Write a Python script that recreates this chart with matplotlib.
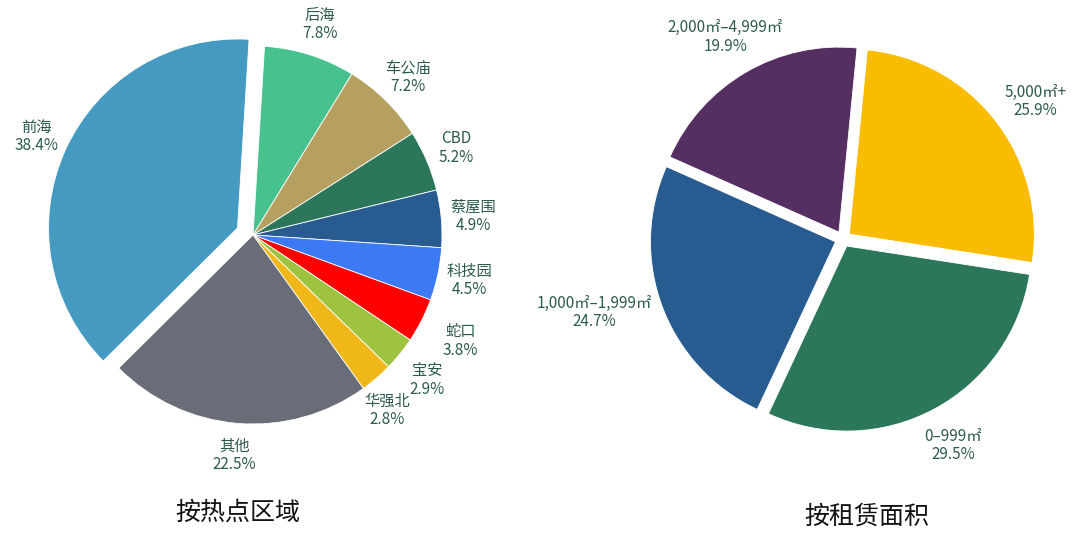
import matplotlib
matplotlib.use("Agg")
import matplotlib.pyplot as plt
import numpy as np

plt.rcParams["font.family"] = ["Noto Sans CJK SC", "DejaVu Sans"]

# --- data: by hotspot area ---
area_names = ["后海", "车公庙", "CBD", "蔡屋围", "科技园", "蛇口", "宝安", "华强北", "其他", "前海"]
area_share = [7.8, 7.2, 5.2, 4.9, 4.5, 3.8, 2.9, 2.8, 22.5, 38.4]
area_colors = ["#47C28F", "#B5A060", "#2C7759", "#285C91", "#3B79F5",
               "#FF0000", "#9DC33F", "#EFB818", "#686D77", "#449AC0"]

# --- data: by leased floor area ---
size_names = ["5,000㎡+", "0–999㎡", "1,000㎡–1,999㎡", "2,000㎡–4,999㎡"]
size_share = [25.9, 29.5, 24.7, 19.9]
size_colors = ["#F9BC00", "#2C7759", "#285C91", "#552E62"]

LABEL_COLOR = "#2D5A4F"
H = 539

fig = plt.figure(figsize=(10.8, 5.39), dpi=100)
ax = fig.add_axes([0, 0, 1, 1])


def draw_pie(names, share, colors, center, radius, start, explode, labeldist):
    labels = [f"{n}\n{v:.1f}%" for n, v in zip(names, share)]
    # explode is in data units here (pixels), not a fraction of the radius
    wedges, texts = ax.pie(
        share,
        labels=labels,
        colors=colors,
        explode=explode,
        startangle=start,
        counterclock=False,
        center=center,
        radius=radius,
        labeldistance=labeldist,
        wedgeprops=dict(edgecolor="white", linewidth=0.6),
        textprops=dict(color=LABEL_COLOR, fontsize=11),
    )
    for t in texts:
        t.set_ha("center")
        t.set_va("center")
        t.set_linespacing(1.1)
    return wedges, texts


def nudge(t, dx, dy):
    x, y = t.get_position()
    t.set_position((x + dx, y + dy))


# left pie - only 前海 pulled out
_, ltxt = draw_pie(area_names, area_share, area_colors, (253, H - 235), 189, 86.5,
                   [0, 0, 0, 0, 0, 0, 0, 0, 0, 17], 1.17)
# spread the small slices' labels a little, like the original
nudge(ltxt[5], 10, -6)   # 蛇口
nudge(ltxt[6], 2, -6)    # 宝安
nudge(ltxt[7], -10, -8)  # 华强北

# right pie - every slice pulled out a little
_, rtxt = draw_pie(size_names, size_share, size_colors, (843, H - 239), 185, 84.4,
                   [8] * 4, 1.22)
nudge(rtxt[2], -30, 8)   # wide 1,000-1,999 label
nudge(rtxt[0], 8, -6)

ax.text(238, H - 513, "按热点区域", fontsize=18, color="#111111", ha="center", va="center")
ax.text(867, H - 517, "按租赁面积", fontsize=18, color="#111111", ha="center", va="center")

ax.set_xlim(0, 1080)
ax.set_ylim(0, H)
ax.set_aspect("auto")
ax.axis("off")

fig.savefig("out.png", dpi=100, facecolor="white")
